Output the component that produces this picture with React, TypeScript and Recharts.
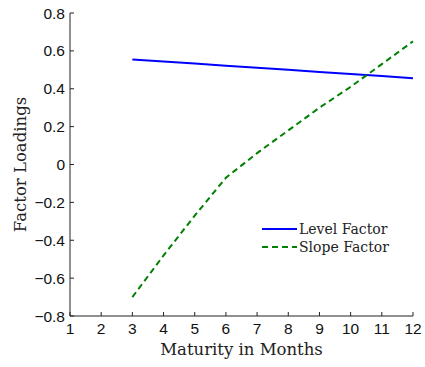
import React from 'react';
import { LineChart, Line, XAxis, YAxis, Legend } from 'recharts';

const months = [3, 4, 5, 6, 7, 8, 9, 10, 11, 12];
const levelLoadings = [0.555, 0.544, 0.533, 0.522, 0.511, 0.5, 0.489, 0.478, 0.467, 0.455];
const slopeLoadings = [-0.7, -0.48, -0.27, -0.07, 0.06, 0.18, 0.3, 0.41, 0.53, 0.65];

const xTicks = [1, 2, 3, 4, 5, 6, 7, 8, 9, 10, 11, 12];
const yTicks = [-0.8, -0.6, -0.4, -0.2, 0, 0.2, 0.4, 0.6, 0.8];

const data = months.map((m, i) => ({
  month: m,
  level: levelLoadings[i],
  slope: slopeLoadings[i],
}));

const SERIF = '"DejaVu Serif", serif';
const SANS = '"Liberation Sans", Arial, sans-serif';
const AXIS = '#222';

const fmtY = (v: number) => (v === 0 ? '0' : v.toFixed(1).replace('-', '\u2212'));

function LegendBox({ payload }: any) {
  return (
    <div style={{ fontFamily: SERIF, fontSize: 14, color: '#222', lineHeight: '18px' }}>
      {(payload || []).map((p: any) => (
        <div key={p.value} style={{ display: 'flex', alignItems: 'center', height: 18 }}>
          <svg width={38} height={18} style={{ display: 'block' }}>
            <line
              x1={1}
              x2={36}
              y1={9}
              y2={9}
              stroke={p.color}
              strokeWidth={2}
              strokeDasharray={p.payload?.strokeDasharray}
            />
          </svg>
          <span>{p.value}</span>
        </div>
      ))}
    </div>
  );
}

function YTitle({ viewBox }: any) {
  const cy = viewBox.y + viewBox.height / 2;
  return (
    <text
      x={20}
      y={cy}
      transform={`rotate(-90, 20, ${cy})`}
      textAnchor="middle"
      dominantBaseline="central"
      fontFamily={SERIF}
      fontSize={16.5}
      fill="#222"
    >
      Factor Loadings
    </text>
  );
}

export default function App() {
  return (
    <div style={{ position: 'absolute', left: 0, top: 0, background: '#fff' }}>
      <LineChart width={425} height={367} data={data} margin={{ top: 13, right: 12, left: 0, bottom: 0 }}>
        <XAxis
          dataKey="month"
          type="number"
          domain={[1, 12]}
          ticks={xTicks}
          interval={0}
          height={51}
          stroke={AXIS}
          tickSize={-4}
          tickMargin={11}
          tick={{ fill: '#111', fontSize: 15.5, fontFamily: SANS }}
          label={{
            value: 'Maturity in Months',
            position: 'insideBottom',
            offset: 12,
            fill: '#222',
            fontSize: 16.5,
            fontFamily: SERIF,
          }}
        />
        <YAxis
          type="number"
          domain={[-0.8, 0.8]}
          ticks={yTicks}
          interval={0}
          width={70}
          stroke={AXIS}
          tickSize={-4}
          tickMargin={9}
          tickFormatter={fmtY}
          tick={{ fill: '#111', fontSize: 15.5, fontFamily: SANS }}
          label={<YTitle />}
        />
        <Legend
          layout="vertical"
          align="center"
          verticalAlign="middle"
          content={<LegendBox />}
          wrapperStyle={{ left: 261, top: 220, width: 150 }}
        />
        <Line
          dataKey="level"
          name="Level Factor"
          stroke="#0000ff"
          strokeWidth={2}
          dot={false}
          isAnimationActive={false}
        />
        <Line
          dataKey="slope"
          name="Slope Factor"
          stroke="#008000"
          strokeWidth={2}
          strokeDasharray="6 4"
          dot={false}
          isAnimationActive={false}
        />
      </LineChart>
    </div>
  );
}
